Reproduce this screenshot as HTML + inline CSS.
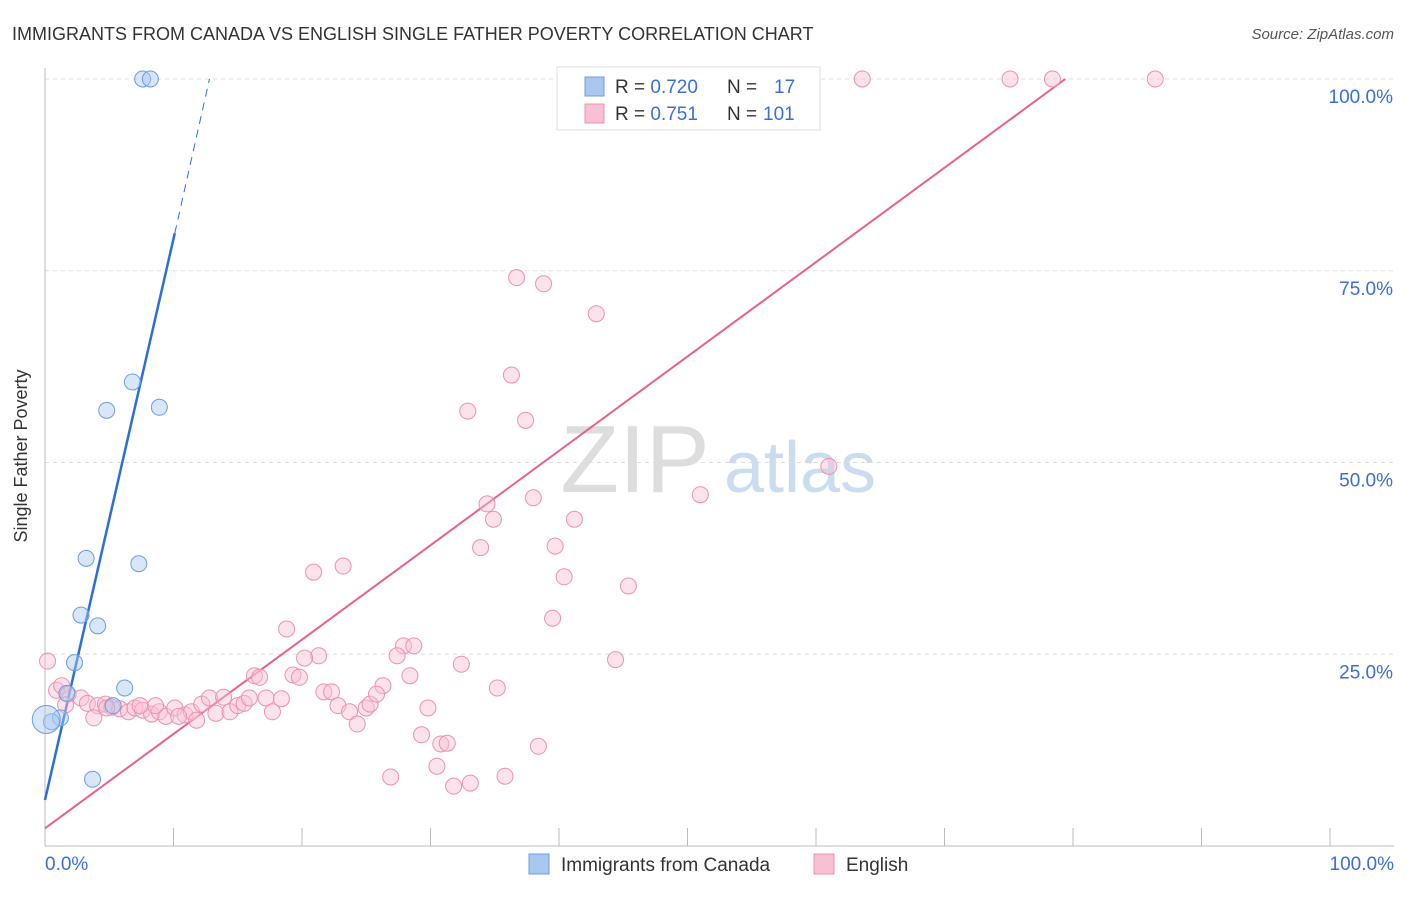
<!DOCTYPE html>
<html><head><meta charset="utf-8"><style>
body{margin:0;background:#fff;font-family:"Liberation Sans",sans-serif}
svg text{font-family:"Liberation Sans",sans-serif}
</style></head><body>
<svg id="c" width="1406" height="892">
<text x="12" y="40" font-size="18" fill="#333">IMMIGRANTS FROM CANADA VS ENGLISH SINGLE FATHER POVERTY CORRELATION CHART</text>
<text x="1394" y="39" font-size="15" fill="#555" text-anchor="end" font-style="italic">Source: ZipAtlas.com</text>
<text x="27" y="456" font-size="18" fill="#333" text-anchor="middle" transform="rotate(-90 27 456)">Single Father Poverty</text>
<g><text x="635" y="492" font-size="96" fill="#ddd" font-family="Liberation Serif,serif" text-anchor="middle">ZIP</text><text x="800" y="492" font-size="72" fill="#c9dcf0" text-anchor="middle">atlas</text></g>
<g id="grid"></g><g id="axes"></g><g id="lines"></g><g id="pts"></g>
<g>
<rect x="557" y="67" width="263" height="63" fill="#fff" stroke="#ddd"/>
<rect x="585" y="77" width="19" height="19" fill="#a9c8f0" stroke="#6a9de0"/>
<rect x="585" y="104" width="19" height="19" fill="#f8c0d2" stroke="#ec90b0"/>
<text x="615" y="93" font-size="19" fill="#333">R = <tspan fill="#3b6fd4">0.720</tspan></text>
<text x="727" y="93" font-size="19" fill="#333">N = </text><text x="774" y="93" font-size="19" fill="#3b6fd4">17</text>
<text x="615" y="120" font-size="19" fill="#333">R = <tspan fill="#3b6fd4"> 0.751</tspan></text>
<text x="727" y="120" font-size="19" fill="#333">N = </text><text x="763" y="120" font-size="19" fill="#3b6fd4">101</text>
</g>
<g>
<rect x="529" y="854" width="20" height="20" fill="#a9c8f0" stroke="#6a9de0"/>
<text x="561" y="871" font-size="19" fill="#333">Immigrants from Canada</text>
<rect x="814" y="854" width="20" height="20" fill="#f8c0d2" stroke="#ec90b0"/>
<text x="846" y="871" font-size="19" fill="#333">English</text>
</g>
</svg>
<script>
const xTickLabels=["0.0%","100.0%"];
const yTicks=[25,50,75,100];
const yTickLabels=["25.0%","50.0%","75.0%","100.0%"];
const blueX=[7.6,8.2,6.8,4.8,8.9,3.2,7.3,2.8,4.1,2.3,6.2,1.7,5.3,1.2,0.5,0.1,3.7];
const blueY=[100,100,60.5,56.8,57.2,37.5,36.8,30.1,28.7,23.9,20.6,19.9,18.3,16.7,16.2,16.5,8.7];
const pinkX=[41.0,45.5,47.9,56.4,63.6,75.1,78.4,86.4,36.7,38.8,42.9,36.3,32.9,37.4,61.0,51.0,34.4,38.0,34.9,41.2,33.9,39.7,20.9,23.2,40.4,45.4,39.5,18.8,44.4,32.4,27.9,28.7,27.4,21.3,20.2,0.2,16.3,16.7,19.3,19.8,28.4,26.3,35.2,0.9,1.3,1.8,2.8,3.3,4.1,4.7,5.2,5.8,6.5,7.0,7.6,8.3,8.9,9.4,10.1,10.9,11.4,11.8,12.2,12.8,13.3,13.9,14.4,15.0,15.5,15.9,17.2,17.7,18.4,21.7,22.3,22.8,23.7,24.3,25.0,25.3,25.8,29.8,29.3,30.8,31.3,30.5,31.8,33.1,35.8,26.9,38.4,3.8,7.4,1.6,4.8,8.6,10.4];
const pinkY=[100,100,100,100,100,100,100,100,74.1,73.3,69.4,61.4,56.7,55.5,49.5,45.8,44.6,45.4,42.6,42.6,38.9,39.1,35.7,36.5,35.1,33.9,29.7,28.3,24.3,23.7,26.1,26.1,24.8,24.8,24.5,24.1,22.2,22.0,22.3,22.0,22.2,20.9,20.6,20.3,20.9,19.8,19.3,18.6,18.3,18.5,18.1,17.9,17.5,18.0,17.7,17.2,17.5,16.9,18.0,17.1,17.5,16.4,18.5,19.3,17.3,19.4,17.5,18.3,18.6,19.3,19.3,17.5,19.2,20.1,20.1,18.3,17.5,15.9,18.0,18.5,19.8,18.0,14.5,13.3,13.4,10.4,7.8,8.2,9.1,9.0,13.0,16.7,18.3,18.4,18.0,18.3,16.9];
const blueLine=[[0,6],[10.1,79.9],[12.8,100]];
const pinkLine=[[0,2.3],[79.4,100]];
const X=v=>45+v*12.85, Y=v=>846-v*7.67;
const NS="http://www.w3.org/2000/svg";
function mk(t,p,a){const e=document.createElementNS(NS,t);for(const k in a)e.setAttribute(k,a[k]);p.appendChild(e);return e;}
const grid=document.getElementById('grid'),axes=document.getElementById('axes'),lines=document.getElementById('lines'),pts=document.getElementById('pts');
yTicks.forEach((t,i)=>{
 const g=mk('line',grid,{x1:45,x2:1394,y1:Y(t),y2:Y(t),stroke:'#ddd','stroke-dasharray':'4,4'});
 
 
 const tx=mk('text',axes,{x:1393,y:Y(t)+24,'font-size':19,fill:'#3b6fd4','text-anchor':'end'});tx.textContent=yTickLabels[i];
 
 
});
const la=mk('line',axes,{x1:45,x2:45,y1:68,y2:846,stroke:'#bbb'});


const ba=mk('line',axes,{x1:45,x2:1394,y1:846,y2:846,stroke:'#bbb'});


for(let i=1;i<=10;i++){const t=mk('line',axes,{x1:X(i*10),x2:X(i*10),y1:828,y2:846,stroke:'#bbb'});
 
 }
[[0,'start',45],[1,'end',1394]].forEach(([i,a,x])=>{const t=mk('text',axes,{x:x,y:870,'font-size':19,fill:'#3b6fd4','text-anchor':a});t.textContent=xTickLabels[i];
 
 });
function dot(x,y,r,f,s){const c=mk('circle',pts,{cx:X(x),cy:Y(y),r:r,fill:f,'fill-opacity':0.45,stroke:s,'stroke-width':1});return c;}
pinkX.forEach((x,i)=>{const c=dot(x,pinkY[i],8,'#f8c0d2','#ec90b0');
 
 });
blueX.forEach((x,i)=>{const c=dot(x,blueY[i],i==15?14:8,'#a9c8f0','#6a9de0');
 
 });
const pl=mk('line',lines,{x1:X(pinkLine[0][0]),y1:Y(pinkLine[0][1]),x2:X(pinkLine[1][0]),y2:Y(pinkLine[1][1]),stroke:'#e8608e','stroke-width':2});


const bl=mk('line',lines,{x1:X(blueLine[0][0]),y1:Y(blueLine[0][1]),x2:X(blueLine[1][0]),y2:Y(blueLine[1][1]),stroke:'#2d6fd6','stroke-width':2.5});


const bd=mk('line',lines,{x1:X(blueLine[1][0]),y1:Y(blueLine[1][1]),x2:X(blueLine[2][0]),y2:Y(blueLine[2][1]),stroke:'#2d6fd6','stroke-width':1,'stroke-dasharray':'8,6'});


</script>
</body></html>
